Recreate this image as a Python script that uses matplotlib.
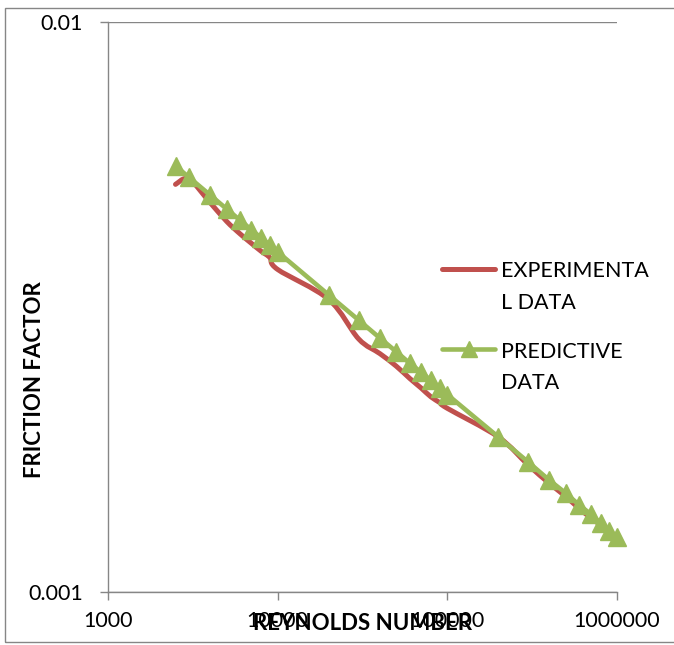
import numpy as np
import matplotlib
matplotlib.use("Agg")
import matplotlib.pyplot as plt
from matplotlib.path import Path
from matplotlib.patches import PathPatch, Rectangle
from matplotlib.lines import Line2D
from matplotlib.ticker import FixedLocator, NullLocator

plt.rcParams['font.family'] = ['Lato', 'DejaVu Sans']

# ---------------------------
# data
# ---------------------------
reynolds = [2500, 3000, 4000, 5000, 6000, 7000, 8000, 9000,
            10000, 20000, 30000, 40000, 50000, 60000, 70000, 80000, 90000,
            100000, 200000, 300000, 400000, 500000, 600000, 700000, 800000,
            900000, 1000000]
f_experimental = [0.00519, 0.00530, 0.00482, 0.00447, 0.00425, 0.00409, 0.00396, 0.00386,
                  0.00368, 0.00326, 0.00278, 0.00262, 0.00249, 0.00237, 0.00228, 0.00220,
                  0.00215, 0.00210, 0.00187, 0.00167, 0.00155, 0.00147, 0.00140, 0.00135,
                  0.00131, 0.00127, 0.00124]
f_predictive = [0.00559, 0.00534, 0.00497, 0.00470, 0.00449, 0.00432, 0.00418, 0.00406,
                0.00395, 0.00332, 0.00300, 0.00279, 0.00264, 0.00252, 0.00243, 0.00235,
                0.00228, 0.00222, 0.00187, 0.00169, 0.00157, 0.00149, 0.00142, 0.00137,
                0.00132, 0.00128, 0.00125]
x_ticks = [1000, 10000, 100000, 1000000]
x_ticklabels = ['1000', '10000', '100000', '1000000']
y_ticks = [0.001, 0.01]
y_ticklabels = ['0.001', '0.01']
legend_labels = [['EXPERIMENTA', 'L DATA'], ['PREDICTIVE', 'DATA']]

RED = '#C0504D'
GREEN = '#9BBB59'
GRAY = '#868686'

W, H = 674, 645


def smooth_path(xs, ys):
    # excel-like smoothed line: catmull-rom -> bezier in log space
    lx = np.log10(xs)
    ly = np.log10(ys)
    p = np.column_stack([lx, ly])
    n = len(p)
    verts = [p[0]]
    codes = [Path.MOVETO]
    for i in range(n - 1):
        p0 = p[i - 1] if i > 0 else p[i]
        p1 = p[i]
        p2 = p[i + 1]
        p3 = p[i + 2] if i + 2 < n else p[i + 1]
        c1 = p1 + (p2 - p0) / 6.0
        c2 = p2 - (p3 - p1) / 6.0
        verts += [c1, c2, p2]
        codes += [Path.CURVE4] * 3
    verts = 10 ** np.array(verts)
    return Path(verts, codes)


fig = plt.figure(figsize=(W / 100, H / 100), dpi=100)
ax = fig.add_axes([108 / W, 1 - 592 / H, (617 - 108) / W, (592 - 22) / H])

# outer chart border
fig.patches.append(Rectangle((5 / W, 1 - 642 / H), 1.0, (642 - 8) / H,
                             transform=fig.transFigure, fill=False,
                             edgecolor=GRAY, lw=1.0))

ax.set_xscale('log')
ax.set_yscale('log')
ax.set_xlim(1000, 1000000)
ax.set_ylim(0.001, 0.01)

red_patch = PathPatch(smooth_path(reynolds, f_experimental), fill=False,
                      edgecolor=RED, lw=3.6, capstyle='round', joinstyle='round', zorder=2)
ax.add_patch(red_patch)
ax.plot(reynolds, f_predictive, color=GREEN, lw=3.3, marker='^', markersize=13.5,
        markerfacecolor=GREEN, markeredgecolor=GREEN, zorder=3, clip_on=False)

ax.xaxis.set_major_locator(FixedLocator(x_ticks))
ax.xaxis.set_minor_locator(NullLocator())
ax.set_xticklabels(x_ticklabels)
ax.yaxis.set_major_locator(FixedLocator(y_ticks))
ax.yaxis.set_minor_locator(NullLocator())
ax.set_yticklabels(y_ticklabels)

ax.tick_params(axis='both', which='major', direction='out', length=6, width=1.0,
               color=GRAY, labelsize=15.5, labelcolor='black')
ax.tick_params(axis='x', pad=8)
ax.tick_params(axis='y', pad=12)

for s in ['top', 'right']:
    ax.spines[s].set_visible(False)
for s in ['left', 'bottom']:
    ax.spines[s].set_color(GRAY)
    ax.spines[s].set_linewidth(1.0)
ax.grid(axis='y', which='major', color=GRAY, lw=1.0)
ax.set_axisbelow(True)

ax.set_xlabel('REYNOLDS NUMBER', fontsize=16, fontweight='bold', va='center')
ax.xaxis.set_label_coords(0.5, (592 - 624) / 570)
ax.set_ylabel('FRICTION FACTOR', fontsize=16, fontweight='bold', va='center')
ax.yaxis.set_label_coords((35 - 108) / 509, (592 - 380) / 570)

# legend drawn by hand (text wraps like the original)
def fx(px):
    return px / W


def fy(py):
    return 1 - py / H


fig.lines.append(Line2D([fx(442), fx(495)], [fy(269), fy(269)], transform=fig.transFigure,
                        color=RED, lw=3.6, solid_capstyle='round'))
fig.lines.append(Line2D([fx(442), fx(495)], [fy(349), fy(349)], transform=fig.transFigure,
                        color=GREEN, lw=3.3, solid_capstyle='round'))
fig.lines.append(Line2D([fx(469)], [fy(349)], transform=fig.transFigure, color=GREEN,
                        marker='^', markersize=12, markerfacecolor=GREEN, markeredgecolor=GREEN))
baselines = [[277, 309], [358, 389]]
for lab, bl in zip(legend_labels, baselines):
    for txt, b in zip(lab, bl):
        fig.text(fx(501), fy(b), txt, fontsize=15.5, va='baseline', ha='left')

fig.savefig('out.png', dpi=100)
